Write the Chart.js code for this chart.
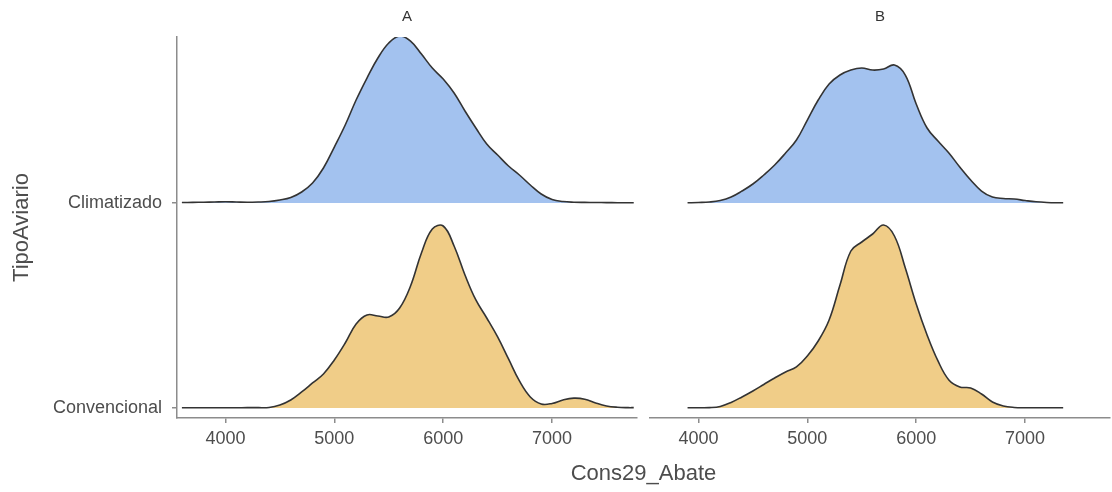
<!DOCTYPE html>
<html>
<head>
<meta charset="utf-8">
<script src="https://cdn.jsdelivr.net/npm/chart.js@4"></script>
<style>
  html, body { margin: 0; padding: 0; background: #fff; }
  #wrap { position: relative; width: 1112px; height: 492px; }
  #wrap canvas { position: absolute; left: 0; top: 0; }
</style>
</head>
<body>
<div id="wrap">
  <canvas id="chartA" width="1112" height="492"></canvas>
  <canvas id="chartB" width="1112" height="492"></canvas>
</div>
<script>
// Facets, categories and ticks
const facets = ["A", "B"];
const categories = ["Convencional", "Climatizado"];
const xTicks = [4000, 5000, 6000, 7000];

// Ridge heights (relative density, one row = 205)
const xA = [3600, 3700, 3800, 3900, 4000, 4100, 4200, 4300, 4400, 4500,
            4600, 4700, 4800, 4900, 5000, 5100, 5200, 5300, 5400, 5500,
            5600, 5700, 5800, 5900, 6000, 6100, 6200, 6300, 6400, 6500,
            6600, 6700, 6800, 6900, 7000, 7100, 7200, 7300, 7400, 7500,
            7600, 7700, 7750];
const climatizadoA = [0.5, 0.6, 0.8, 1.0, 1.2, 1.0, 0.8, 1.0, 1.5, 3,
                      5.5, 11, 20, 35, 56, 78, 103, 125, 145, 160,
                      167, 162, 149, 135, 124, 110, 92, 75, 59, 48,
                      37, 28, 18, 9, 3.5, 1.5, 0.8, 0.6, 0.5, 0.4,
                      0.3, 0.3, 0.3];
const convencionalA = [0.2, 0.2, 0.2, 0.2, 0.2, 0.2, 0.3, 0.3, 0.5, 3,
                       8, 16, 25, 34, 48, 65, 84, 93, 92, 91,
                       100, 122, 155, 179, 182, 162, 133, 108, 90, 71,
                       49, 27, 11, 4, 4.5, 8, 9.8, 8.8, 5, 2,
                       0.7, 0.3, 0.3];

const xB = [3900, 4000, 4100, 4200, 4300, 4400, 4500, 4600, 4700, 4800,
            4900, 5000, 5100, 5200, 5300, 5400, 5500, 5600, 5700, 5800,
            5900, 6000, 6100, 6200, 6300, 6400, 6500, 6600, 6700, 6800,
            6900, 7000, 7100, 7200, 7300, 7350];
const climatizadoB = [0.2, 0.5, 1.0, 2.5, 6, 12, 19, 28, 38, 50,
                      63, 83, 103, 119, 128, 133, 135, 133, 134, 138,
                      128, 99, 75, 62, 50, 36, 23, 12, 6, 4.5,
                      4, 2.5, 1.2, 0.5, 0.2, 0.2];
const convencionalB = [0.2, 0.2, 0.3, 1.5, 5.5, 11, 17, 23.5, 30, 36,
                       41, 52, 67, 88, 123, 157, 166, 174, 183, 172,
                       140, 104, 73, 47, 28, 21, 20, 14, 6, 2,
                       0.5, 0.2, 0.2, 0.2, 0.2, 0.2];

const densityScale = 1 / 205;
const fills = { Climatizado: "#a3c2ef", Convencional: "#f0cd88" };
const axisColor = "#8c8c8c";
const textColor = "#4d4d4d";
const fontFamily = "'Liberation Sans', Arial, sans-serif";

function ridge(label, xs, dens) {
    const base = categories.indexOf(label) + 1;
    return {
        label: label,
        data: xs.map((x, i) => ({ x: x, y: base + dens[i] * densityScale })),
        fill: { value: base },
        backgroundColor: fills[label],
        borderColor: "#333333",
        borderWidth: 1.6,
        pointRadius: 0,
        tension: 0.4
    };
}

// facet strip label, plus the shared x title on the right chart
const stripLabel = {
    id: "stripLabel",
    afterDraw(chart, args, opts) {
        const ctx = chart.ctx;
        const area = chart.chartArea;
        ctx.save();
        ctx.fillStyle = "#333333";
        ctx.textAlign = "center";
        ctx.textBaseline = "middle";
        ctx.font = "15px " + fontFamily;
        ctx.fillText(opts.text, (area.left + area.right) / 2, 17);
        if (opts.xTitle) {
            ctx.fillStyle = textColor;
            ctx.font = "22px " + fontFamily;
            ctx.fillText(opts.xTitle, (177 + area.right) / 2, 474);
        }
        ctx.restore();
    }
};

function makeChart(id, facet, datasets, showY) {
    return new Chart(document.getElementById(id), {
        type: "line",
        data: { datasets: datasets },
        options: {
            responsive: false,
            animation: false,
            layout: {
                padding: showY ? { left: 0, right: 475, top: 37, bottom: 0 }
                               : { left: 650, right: 2, top: 37, bottom: 0 }
            },
            plugins: {
                legend: { display: false },
                tooltip: { enabled: false },
                stripLabel: { text: facet, xTitle: showY ? null : "Cons29_Abate" }
            },
            scales: {
                x: {
                    type: "linear",
                    min: 3555,
                    max: 7780,
                    afterBuildTicks: s => { s.ticks = xTicks.map(v => ({ value: v })); },
                    afterFit: s => { s.height = 74; },
                    border: { display: true, color: axisColor, width: 1.5 },
                    grid: { drawOnChartArea: false, drawTicks: true, tickLength: 5, color: axisColor, lineWidth: 1.5 },
                    ticks: {
                        color: textColor,
                        padding: 5,
                        maxRotation: 0,
                        font: { size: 18, family: fontFamily },
                        callback: v => String(v)
                    }
                },
                y: {
                    type: "linear",
                    display: showY,
                    min: 0.951,
                    max: 2.81,
                    afterBuildTicks: s => { s.ticks = [1, 2].map(v => ({ value: v })); },
                    afterFit: s => { s.width = showY ? 177 : 0; },
                    border: { display: true, color: axisColor, width: 1.5 },
                    grid: { drawOnChartArea: false, drawTicks: true, tickLength: 5, color: axisColor, lineWidth: 1.5 },
                    ticks: {
                        color: textColor,
                        padding: 10,
                        font: { size: 18, family: fontFamily },
                        callback: (v, i) => categories[i]
                    },
                    title: {
                        display: true,
                        text: "TipoAviario",
                        color: textColor,
                        padding: { top: 9, bottom: 0 },
                        font: { size: 22, family: fontFamily }
                    }
                }
            }
        },
        plugins: [stripLabel]
    });
}

makeChart("chartA", facets[0], [
    ridge("Climatizado", xA, climatizadoA),
    ridge("Convencional", xA, convencionalA)
], true);

makeChart("chartB", facets[1], [
    ridge("Climatizado", xB, climatizadoB),
    ridge("Convencional", xB, convencionalB)
], false);
</script>
</body>
</html>
